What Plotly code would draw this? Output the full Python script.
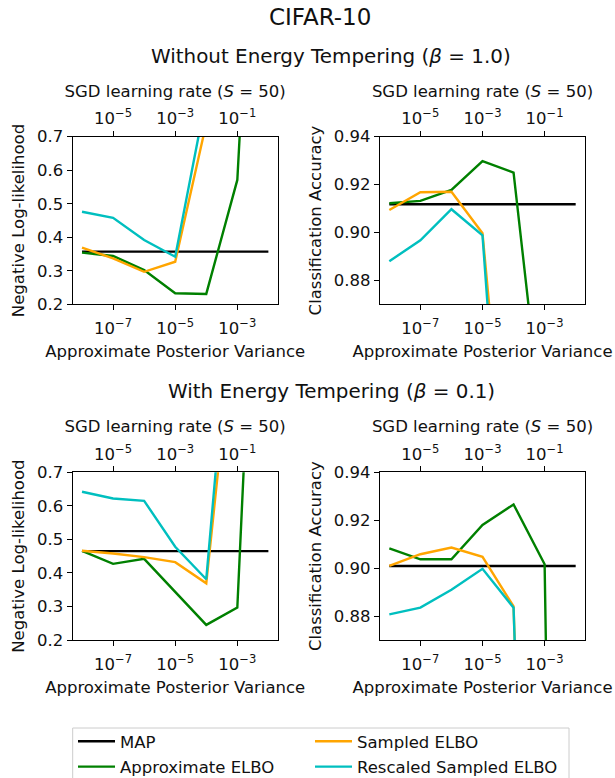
import plotly.graph_objects as go

# ---------------- data ----------------
variance = [1e-8, 1e-7, 1e-6, 1e-5, 1e-4, 1e-3, 1e-2]
variance_ticks = [1e-7, 1e-5, 1e-3]
variance_ticktext = ["10<sup>−7</sup>", "10<sup>−5</sup>", "10<sup>−3</sup>"]
lr_ticks = [1e-5, 1e-3, 1e-1]
lr_ticktext = ["10<sup>−5</sup>", "10<sup>−3</sup>", "10<sup>−1</sup>"]
nll_ticks = [0.2, 0.3, 0.4, 0.5, 0.6, 0.7]
acc_ticks = [0.88, 0.90, 0.92, 0.94]

# Without energy tempering (beta = 1.0)
map_nll_b1 = 0.357
approx_nll_b1 = [0.354, 0.344, 0.302, 0.233, 0.231, 0.571, 2.30]
sampled_nll_b1 = [0.369, 0.337, 0.297, 0.327, 0.740, 2.30, 2.30]
rescaled_nll_b1 = [0.476, 0.458, 0.392, 0.342, 0.820, 2.30, 2.30]

map_acc_b1 = 0.9118
approx_acc_b1 = [0.9122, 0.9132, 0.9178, 0.9298, 0.9250, 0.810, 0.100]
sampled_acc_b1 = [0.9094, 0.9168, 0.9170, 0.8997, 0.760, 0.100, 0.100]
rescaled_acc_b1 = [0.8880, 0.8967, 0.9097, 0.8988, 0.720, 0.100, 0.100]

# With energy tempering (beta = 0.1)
map_nll_b01 = 0.465
approx_nll_b01 = [0.466, 0.427, 0.442, 0.344, 0.245, 0.297, 2.30]
sampled_nll_b01 = [0.466, 0.458, 0.447, 0.432, 0.369, 1.25, 2.30]
rescaled_nll_b01 = [0.642, 0.622, 0.615, 0.478, 0.381, 1.44, 2.30]

map_acc_b01 = 0.9009
approx_acc_b01 = [0.9082, 0.9037, 0.9037, 0.9180, 0.9266, 0.9016, 0.100]
sampled_acc_b01 = [0.9009, 0.9058, 0.9086, 0.9047, 0.8840, 0.100, 0.100]
rescaled_acc_b01 = [0.8807, 0.8835, 0.8910, 0.8997, 0.8835, 0.100, 0.100]

series_names = ["MAP", "Approximate ELBO", "Sampled ELBO", "Rescaled Sampled ELBO"]
colors = ["#000000", "#008000", "#FFA500", "#00BFBF"]

panels = [
    dict(map=map_nll_b1, curves=[approx_nll_b1, sampled_nll_b1, rescaled_nll_b1],
         ylabel="Negative Log-likelihood", yrange=[0.2, 0.7], yticks=nll_ticks, fmt="{:.1f}"),
    dict(map=map_acc_b1, curves=[approx_acc_b1, sampled_acc_b1, rescaled_acc_b1],
         ylabel="Classification Accuracy", yrange=[0.87, 0.94], yticks=acc_ticks, fmt="{:.2f}"),
    dict(map=map_nll_b01, curves=[approx_nll_b01, sampled_nll_b01, rescaled_nll_b01],
         ylabel="Negative Log-likelihood", yrange=[0.2, 0.7], yticks=nll_ticks, fmt="{:.1f}"),
    dict(map=map_acc_b01, curves=[approx_acc_b01, sampled_acc_b01, rescaled_acc_b01],
         ylabel="Classification Accuracy", yrange=[0.87, 0.94], yticks=acc_ticks, fmt="{:.2f}"),
]

# ---------------- layout geometry ----------------
W, H = 615, 778
def px_x(p): return p / W
def px_y(p): return 1 - p / H

xdomains = [[px_x(72.7), px_x(277.7)], [px_x(380), px_x(585)]]
ydomains = [[px_y(304.3), px_y(136.7)], [px_y(640), px_y(472.3)]]

FONT = "DejaVu Sans"
FS = 16.5
TXT = "#111111"
fig = go.Figure()
layout = dict(
    width=W, height=H, margin=dict(l=0, r=0, t=0, b=0, autoexpand=False),
    paper_bgcolor="white", plot_bgcolor="white",
    font=dict(family=FONT, size=FS, color=TXT),
    showlegend=True,
)

legends = ["legend", "legend", "legend2", "legend2"]
for i, p in enumerate(panels):
    r, c = divmod(i, 2)
    xb = f"x{2*i+1}" if i > 0 else "x"
    xt = f"x{2*i+2}"
    yk = f"y{i+1}" if i > 0 else "y"
    xb_name = "xaxis" if i == 0 else f"xaxis{2*i+1}"
    xt_name = f"xaxis{2*i+2}"
    y_name = "yaxis" if i == 0 else f"yaxis{i+1}"

    # MAP line
    fig.add_trace(go.Scatter(
        x=[variance[0], variance[-1]], y=[p["map"], p["map"]], mode="lines",
        line=dict(color=colors[0], width=2.4), name=series_names[0],
        xaxis=xb, yaxis=yk, showlegend=(i == 0), legend=legends[0], legendgroup="g0"))
    for k, vals in enumerate(p["curves"]):
        fig.add_trace(go.Scatter(
            x=variance, y=vals, mode="lines",
            line=dict(color=colors[k+1], width=2.4), name=series_names[k+1],
            xaxis=xb, yaxis=yk, showlegend=(i == 0), legend=legends[k+1],
            legendgroup=f"g{k+1}"))
    # empty trace that carries the top (learning-rate) axis
    fig.add_trace(go.Scatter(
        x=lr_ticks, y=[None] * len(lr_ticks), mode="lines", xaxis=xt, yaxis=yk,
        showlegend=False, hoverinfo="skip"))

    common = dict(ticks="outside", ticklen=5, tickwidth=1.3, tickcolor="#000",
                  showgrid=False, zeroline=False, automargin=False,
                  tickfont=dict(size=FS, family=FONT))
    layout[xb_name] = dict(
        type="log", domain=xdomains[c], anchor=yk, range=[-8.3, -1.7],
        tickvals=variance_ticks, ticktext=variance_ticktext,
        showline=True, linecolor="#000", linewidth=1.3, mirror=True,
        ticklabelstandoff=4,
        title=dict(text="Approximate Posterior Variance", standoff=8,
                   font=dict(size=FS, family=FONT)),
        **common)
    layout[xt_name] = dict(
        type="log", domain=xdomains[c], anchor=yk, overlaying=xb, side="top",
        range=[-6.3, 0.3], tickvals=lr_ticks, ticktext=lr_ticktext,
        showline=False,
        title=dict(text="SGD learning rate (<i>S</i> = 50)", standoff=4,
                   font=dict(size=FS, family=FONT)),
        **common)
    layout[y_name] = dict(
        domain=ydomains[r], anchor=xb, range=p["yrange"],
        tickvals=p["yticks"], ticktext=[p["fmt"].format(v) for v in p["yticks"]],
        showline=True, linecolor="#000", linewidth=1.3, mirror=True,
        title=dict(text=p["ylabel"], standoff=8, font=dict(size=FS, family=FONT)),
        **common)

layout["legend"] = dict(x=px_x(73), y=px_y(724), xanchor="left", yanchor="top",
                        bgcolor="rgba(0,0,0,0)", font=dict(size=FS, family=FONT),
                        tracegroupgap=1, orientation="v", itemwidth=37)
layout["legend2"] = dict(x=px_x(310), y=px_y(724), xanchor="left", yanchor="top",
                         bgcolor="rgba(0,0,0,0)", font=dict(size=FS, family=FONT),
                         tracegroupgap=1, orientation="v", itemwidth=37)

layout["annotations"] = [
    dict(text="CIFAR-10", x=px_x(319.5), y=px_y(17), xref="paper", yref="paper",
         showarrow=False, xanchor="center", yanchor="middle", font=dict(size=23, family=FONT)),
    dict(text="Without Energy Tempering (<i>β</i> = 1.0)", x=px_x(331), y=px_y(56),
         xref="paper", yref="paper", showarrow=False, xanchor="center", yanchor="middle",
         font=dict(size=19.9, family=FONT)),
    dict(text="With Energy Tempering (<i>β</i> = 0.1)", x=px_x(331), y=px_y(391),
         xref="paper", yref="paper", showarrow=False, xanchor="center", yanchor="middle",
         font=dict(size=19.9, family=FONT)),
]
layout["shapes"] = [
    dict(type="rect", xref="paper", yref="paper", x0=px_x(72.7), x1=px_x(569),
         y0=px_y(800), y1=px_y(728), line=dict(color="#cccccc", width=1),
         fillcolor="rgba(255,255,255,0.8)", layer="below"),
]

fig.update_layout(**layout)
fig.write_html("out.html", config={"displayModeBar": False},
               post_script="document.body.style.margin='0px';"
                           "document.body.style.overflow='hidden';")
